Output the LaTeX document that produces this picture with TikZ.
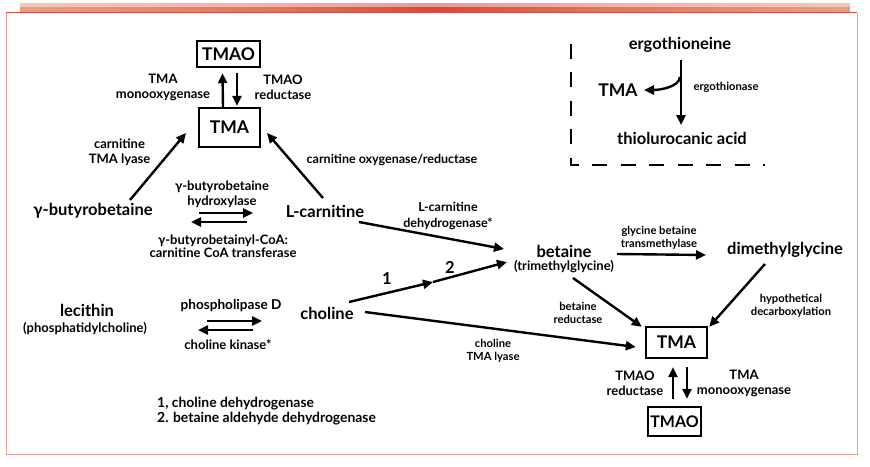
\documentclass[tikz,border=0pt]{standalone}
\usepackage{fontspec}
\setmainfont{Lato}
\usetikzlibrary{arrows.meta,calc}

\definecolor{framered}{HTML}{D94F3D}
\definecolor{framepink}{HTML}{E9A394}
\definecolor{barlight}{HTML}{F6D5C8}
\definecolor{barsalmon}{HTML}{EFA98F}
\definecolor{barmid}{HTML}{E3765C}
\definecolor{bardark}{HTML}{D8483A}
\pgfdeclarehorizontalshading{topbar}{100bp}{color(0bp)=(white); color(5bp)=(barlight);
  color(20bp)=(barsalmon); color(40bp)=(barmid); color(50bp)=(bardark);
  color(60bp)=(barmid); color(80bp)=(barsalmon); color(95bp)=(barlight); color(100bp)=(white)}

\begin{document}
\begin{tikzpicture}[x=1pt, y=-1pt,
    arr/.style = {line width=2.4pt, -{Triangle[length=10pt, width=9pt]}},
    tbox/.style = {draw, line width=2.4pt, inner sep=0pt, font=\bfseries\fontsize{17.5}{20}\selectfont},
    cmpd/.style = {inner sep=0pt, font=\bfseries\fontsize{16.5}{19}\selectfont},
    sub/.style = {inner sep=0pt, font=\bfseries\fontsize{13}{15}\selectfont},
    enz/.style = {inner sep=0pt, align=center, font=\bfseries\fontsize{13}{15}\selectfont},
    enzm/.style = {inner sep=0pt, align=center, font=\bfseries\fontsize{12.5}{16}\selectfont},
    enzs/.style = {inner sep=0pt, align=center, font=\bfseries\fontsize{11.2}{13}\selectfont}]

    \useasboundingbox (0,0) rectangle (870,466);

    % top bar and frame
    \shade[shading=topbar] (20,3) rectangle (850,12.5);
    \fill[white, opacity=0.45] (20,3) rectangle (850,6.5);
    \draw[framepink, line width=1pt] (6,12.5) -- (6,454) -- (857,454) -- (857,12.5);
    \draw[framered, line width=1.2pt] (6,12.5) -- (857,12.5);

    % TMA / TMAO, top
    \node[tbox, minimum width=63pt, minimum height=26pt] (tmao1) at (228.5,54) {TMAO};
    \node[tbox, minimum width=61pt, minimum height=39pt] (tma1) at (229.5,127.5) {TMA};
    \node[enz] (tmamo1) at (163,87.5) {TMA\\monooxygenase};
    \node[enz] (tmaored1) at (283,87.5) {TMAO\\reductase};
    \node[enz] (ctl) at (119.5,152.5) {carnitine\\TMA lyase};
    \node[enzm] (cor) at (392,160) {carnitine oxygenase/reductase};

    \node[cmpd] (gbb) at (93,211) {γ-butyrobetaine};
    \node[cmpd] (lcar) at (325,211) {L-carnitine};
    \node[enz] (gbbh) at (222,194.5) {γ-butyrobetaine\\hydroxylase};
    \node[enz, font=\bfseries\fontsize{13}{12.5}\selectfont] (gbbt) at (223,246)
        {γ-butyrobetainyl-CoA:\\carnitine CoA transferase};

    \node[cmpd] (lec) at (87,310) {lecithin};
    \node[sub] (lecsub) at (85,328) {(phosphatidylcholine)};
    \node[enz, font=\bfseries\fontsize{13.6}{15}\selectfont] (pld) at (231,306) {phospholipase D};
    \node[enz] (ck) at (228,345) {choline kinase*};
    \node[cmpd] (cho) at (327,313) {choline};

    \node[enzm] (lcdh) at (448,216) {L-carnitine\\dehydrogenase*};
    \node[cmpd] (n1) at (387,279) {1};
    \node[cmpd] (n2) at (450,267) {2};
    \coordinate (chomid) at (433,282);

    \node[cmpd] (bet) at (564,251) {betaine};
    \node[sub] (betsub) at (564,267) {(trimethylglycine)};
    \node[enzs] (gbt) at (659,237.5) {glycine betaine\\transmethylase};
    \node[cmpd] (dmg) at (785,250) {dimethylglycine};
    \node[enzs] (betred) at (578,313) {betaine\\reductase};
    \node[enzs] (hyp) at (791,305.5) {hypothetical\\decarboxylation};
    \node[enzs] (ctlyase) at (493,351) {choline\\TMA lyase};

    % TMA / TMAO, bottom
    \node[tbox, minimum width=61pt, minimum height=31pt] (tma2) at (676.5,342.5) {TMA};
    \node[tbox, minimum width=53pt, minimum height=29pt, font=\bfseries\fontsize{16}{18}\selectfont] (tmao2) at (674.5,421.5) {TMAO};
    \node[enz] (tmaored2) at (635,383) {TMAO\\reductase};
    \node[enz] (tmamo2) at (744,383) {TMA\\monooxygenase};

    \node[enz, align=left, anchor=west, font=\bfseries\fontsize{13.9}{15}\selectfont] (notes) at (157,411.5)
        {1, choline dehydrogenase\\2. betaine aldehyde dehydrogenase};

    % ergothioneine inset
    \node[cmpd] (ergo) at (680,45) {ergothioneine};
    \node[cmpd, font=\bfseries\fontsize{17.5}{20}\selectfont] (tma3) at (618,90) {TMA};
    \node[enzs] (ergase) at (726,87) {ergothionase};
    \node[cmpd] (thio) at (682,138) {thiolurocanic acid};
    \draw[line width=2.6pt, dash pattern=on 15pt off 13.5pt] (571,43.5) -- (571,165) -- (765,165);

    \draw[arr] ($(tma1.north)+(-6.5,0)$) -- ($(tmao1.south)+(-6,5)$);
    \draw[arr] ($(tmao1.south)+(8.5,5)$) -- ($(tma1.north)+(7.5,-1)$);
    \draw[arr] ($(gbb)+(37,-11)$) -- ($(tma1)+(-43.5,5.5)$);
    \draw[arr] ($(lcar)+(-2,-13)$) -- ($(tma1)+(37.5,5.5)$);
    \draw[arr] ($(gbb)+(106,2)$) -- ($(lcar)+(-72,2)$);
    \draw[arr] ($(lcar)+(-78,11)$) -- ($(gbb)+(98,11)$);
    \draw[arr] ($(lec)+(120,11)$) -- ($(cho)+(-65,8)$);
    \draw[arr] ($(cho)+(-74,17)$) -- ($(lec)+(111,20)$);
    \draw[arr] ($(lcar)+(34,11)$) -- ($(bet)+(-60,-2)$);
    \draw[arr] ($(cho)+(22,-11)$) -- (chomid);
    \draw[arr] (chomid) -- ($(bet)+(-57,11)$);
    \draw[arr] ($(bet)+(53,3)$) -- ($(dmg)+(-79,5)$);
    \draw[arr] ($(bet)+(9,27)$) -- ($(tma2.north west)+(-3,1)$);
    \draw[arr] ($(dmg)+(-20,14)$) -- ($(tma2.north east)+(1,1)$);
    \draw[arr] ($(cho)+(38,-1)$) -- ($(tma2.west)+(-9,4.5)$);
    \draw[arr] ($(tmao2.north)+(-1.5,-7)$) -- ($(tma2.south)+(-3.5,8)$);
    \draw[arr] ($(tma2.south)+(10.5,8)$) -- ($(tmao2.north)+(12.5,-7)$);
    \draw[arr] ($(ergo)+(1,15)$) -- ($(thio)+(-1,-13)$);
    \draw[arr] ($(ergo)+(0,32)$) .. controls ($(ergo)+(-1,42)$) and ($(tma3)+(42,0)$) .. ($(tma3)+(26,0)$);
\end{tikzpicture}
\end{document}
